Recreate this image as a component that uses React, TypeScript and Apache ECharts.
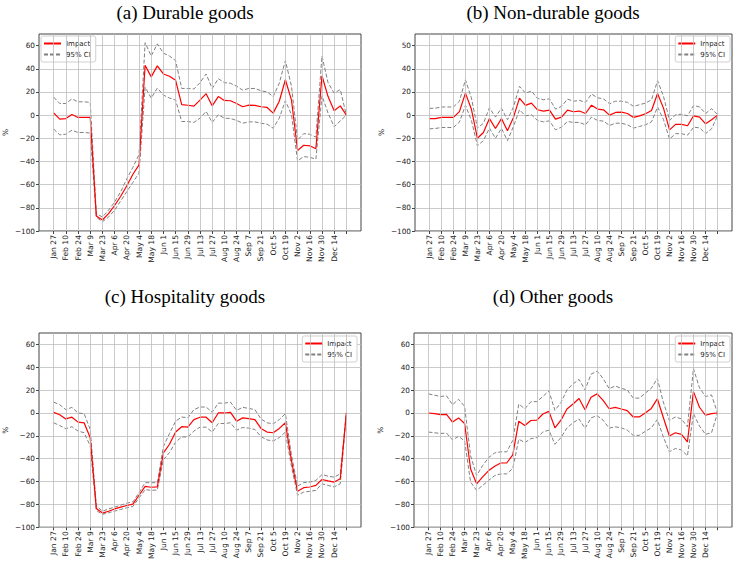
import React, { useEffect, useRef } from "react";
import * as echarts from "echarts";

const weeks = [
  "Jan 27", "Feb 3", "Feb 10", "Feb 17", "Feb 24", "Mar 2", "Mar 9", "Mar 16", "Mar 23", "Mar 30",
  "Apr 6", "Apr 13", "Apr 20", "Apr 27", "May 4", "May 11", "May 18", "May 25", "Jun 1", "Jun 8",
  "Jun 15", "Jun 22", "Jun 29", "Jul 6", "Jul 13", "Jul 20", "Jul 27", "Aug 3", "Aug 10", "Aug 17",
  "Aug 24", "Aug 31", "Sep 7", "Sep 14", "Sep 21", "Sep 28", "Oct 5", "Oct 12", "Oct 19", "Oct 26",
  "Nov 2", "Nov 9", "Nov 16", "Nov 23", "Nov 30", "Dec 7", "Dec 14", "Dec 21", "Dec 28",
];
const xLabelIdx = [0, 2, 4, 6, 8, 10, 12, 14, 16, 18, 20, 22, 24, 26, 28, 30, 32, 34, 36, 38, 40, 42, 44, 46];
const xTickIdx = [0, 2, 4, 6, 8, 10, 12, 14, 16, 18, 20, 22, 24, 26, 28, 30, 32, 34, 36, 38, 40, 42, 44, 46, 48];
const yTickValues = [-100, -80, -60, -40, -20, 0, 20, 40, 60];
const yTickLabels = ["−100", "−80", "−60", "−40", "−20", "0", "20", "40", "60"];
const yTickLabelsB = ["−100", "−80", "−60", "−40", "−20", "0", "20", "40", "50"];

const durableImpact = [2, -3.5, -3, 0.5, -2, -2, -2, -87, -90.5, -85, -78, -70, -61, -51, -43, 43, 33, 42.5, 35.5, 33.5, 30, 9, 8.5, 7.8, 13, 18.5, 8, 16, 12.7, 12.4, 10, 7.2, 8.6, 8.4, 7.2, 6.6, 1.7, 12, 30.5, 13, -30.5, -26, -26.5, -29, 34, 16, 3.7, 8, 0];
const durableUpper = [15.5, 10, 10, 14, 11.5, 11.5, 11, -85, -88, -82, -75, -66, -55, -45, -34, 62.5, 51, 61.5, 53.5, 51, 47, 23, 23, 22.5, 28, 35.5, 23, 31.5, 28, 27.5, 25, 21.5, 23, 23, 21, 20, 16, 27.5, 47, 25, -21.5, -16, -16.5, -19, 51, 28, 19, 22, 0];
const durableLower = [-12, -17, -16.5, -13, -15, -15, -15.5, -88, -92, -88, -82, -74, -66, -58, -50, 24, 14.7, 23.3, 17.3, 14.7, 13, -5.5, -5.5, -6.3, -2.6, 3.2, -6.3, 0.3, -2.6, -2.9, -4.6, -7, -5.8, -5.8, -7, -7.8, -11.3, -2.6, 12.4, 0.3, -39.5, -35.8, -36.4, -38, 16.7, 1.7, -10, -5, 0];

const nonDurableImpact = [-3, -3, -2, -2, -2, 3, 19, 5, -20, -15, -3, -11.5, -3, -13.5, -2, 14.7, 8.4, 10.4, 4.6, 3.5, 4.3, -3.5, -1.7, 4.3, 2.9, 3.5, 1.4, 8.6, 5.2, 4.6, 0, 2.3, 2.6, 1.4, -2, -0.6, 1.2, 4, 18.7, 5.8, -12.7, -8, -8, -9.2, -0.6, -1.7, -7.5, -4, 0];
const nonDurableUpper = [5.8, 6, 7, 7, 7, 12, 30.5, 14.7, -11.2, -7, 6.3, -1.7, 6, -4, 7, 24.8, 19, 20.7, 14.4, 13.3, 14, 5.2, 7.5, 13.8, 12, 12.7, 11, 18.2, 15, 14, 9.8, 12, 12, 11, 7.5, 9, 10.4, 13.3, 29.7, 16, -4.6, 0.3, 0.8, -0.6, 8.4, 7, 1.4, 5.5, 0.5];
const nonDurableLower = [-11.8, -11.5, -10.7, -10.7, -10.7, -6, 8.4, -4.6, -26.5, -22, -11.2, -20, -11.5, -22, -9.8, 4.6, -0.6, 0.3, -4.6, -5.8, -5, -12.7, -10.4, -5.5, -6.3, -6.3, -8.4, -1.7, -4.6, -5.2, -8.9, -7, -7, -8.4, -11.2, -9.8, -8.4, -5.8, 7, -4, -20.7, -16, -16, -17.3, -10.4, -11, -16, -11.8, -0.5];

const hospImpact = [0.5, -1.5, -5.2, -3.7, -8, -8.6, -21.6, -83.6, -87.6, -86, -84, -82.4, -81, -79.8, -72, -64.3, -65, -64.6, -35, -27.4, -16.7, -12, -12.4, -5.8, -3.7, -3.7, -8.6, 0, 0, 0.5, -7.2, -4.3, -4.9, -5.8, -13.5, -16.7, -17.3, -13.5, -8.6, -42, -68.6, -65.4, -64.8, -63.4, -58.2, -59.4, -60.5, -57.6, 0];
const hospUpper = [9.5, 7.2, 2.9, 4.9, 0, -0.6, -14.4, -81.3, -86, -84, -82.4, -80.7, -78.9, -77.8, -69.7, -61, -61, -61, -29.4, -17.9, -7.2, -3.5, -4.3, 2.9, 5.2, 5.2, 0.6, 8.6, 8.6, 9.5, 2.3, 4.9, 4, 2.9, -5.2, -8.6, -9.5, -5.8, -0.6, -37, -64, -61, -60.5, -59, -54, -55.3, -56.2, -53.3, 0.5];
const hospLower = [-8.6, -11, -13.8, -12, -15.8, -17.3, -28.8, -85.3, -88.8, -87.3, -85.9, -84.4, -83, -81.8, -74.4, -67.1, -67.7, -67.4, -40.9, -34.6, -25.4, -21, -21, -15.8, -12.4, -12.4, -16.7, -9.2, -9.2, -8.6, -15, -12.7, -13.3, -14.4, -20.7, -23.6, -24.5, -21.6, -16.7, -47, -72, -69.2, -68.6, -67.7, -62, -63.4, -64.8, -62, -0.5];

const otherImpact = [0, -0.6, -1.4, -1.2, -8, -4.3, -9.2, -49, -62, -56, -50.4, -46.7, -43.8, -43.8, -36.6, -7.2, -11, -6.6, -6.3, -0.9, 1.4, -13, -6.3, 3.5, 7.8, 12.7, 2.9, 13.8, 16.7, 11, 3.7, 4.9, 3.5, 2, -3.5, -3.5, 0, 4, 12.4, -4, -20.2, -17.3, -18.7, -25.4, 18.7, 5, -2, -0.6, 0];
const otherUpper = [16.7, 15.6, 14.4, 15, 7.2, 12, 5.8, -37.5, -54.8, -46, -39, -35, -34, -34, -24, 7.8, 3.7, 9.8, 10, 14.4, 19.3, 2.3, 9.2, 20.2, 25.4, 29.4, 20.2, 34, 36.6, 30.2, 21.3, 23.6, 21.6, 20.2, 13, 13, 17.3, 21.6, 30.2, 9.5, -6.6, -3.5, -5.2, -12.1, 38.9, 22, 14.4, 15.8, 0];
const otherLower = [-16.7, -17.3, -17.9, -17.6, -23.6, -20.5, -24.5, -60.5, -67.7, -63.4, -59, -54.8, -53.3, -53.3, -48.4, -23, -25.9, -22.5, -21.6, -16.7, -15, -27.4, -21.6, -13, -8.6, -5.2, -13.5, -4.3, -2.3, -6.3, -13.3, -12.1, -13, -15, -19.6, -19.6, -16.1, -13, -5.8, -21, -34, -31.1, -32.3, -37.5, -0.6, -11.5, -18.7, -17.3, 0];

const titles = ["(a) Durable goods", "(b) Non-durable goods", "(c) Hospitality goods", "(d) Other goods"];
const impacts = [durableImpact, nonDurableImpact, hospImpact, otherImpact];
const uppers = [durableUpper, nonDurableUpper, hospUpper, otherUpper];
const lowers = [durableLower, nonDurableLower, hospLower, otherLower];
const yLabelSets = [yTickLabels, yTickLabelsB, yTickLabels, yTickLabels];

const W = 738;
const H = 562;
const grids = [
  { left: 39, top: 34, width: 322, height: 197 },
  { left: 415, top: 34, width: 317, height: 197 },
  { left: 38, top: 333, width: 323, height: 196 },
  { left: 414, top: 333, width: 318, height: 196 },
];
const titlePos = [
  { x: 185, y: 3 },
  { x: 553, y: 3 },
  { x: 185, y: 287 },
  { x: 553, y: 287 },
];
const legendPos: any[] = [
  { left: 41, top: 36 },
  { right: 8, top: 36 },
  { right: 381, top: 336 },
  { right: 8, top: 336 },
];

const pair = (arr: number[]) => arr.map((v, i) => [i, v]);
const GRID_COLOR = "#bdbdbd";

export default function App() {
  const ref = useRef<HTMLDivElement>(null);
  useEffect(() => {
    document.body.style.margin = "0";
    const chart = echarts.init(ref.current!, null, { renderer: "svg" });
    const tickFont = "DejaVu Sans";
    const option: any = {
      animation: false,
      backgroundColor: "#ffffff",
      title: titles.map((t, i) => ({
        text: t,
        left: titlePos[i].x,
        top: titlePos[i].y,
        textAlign: "center",
        padding: 0,
        textStyle: { fontFamily: "Liberation Serif", fontSize: 19, fontWeight: "normal", color: "#000" },
      })),
      legend: legendPos.map((p) => ({
        ...p,
        orient: "vertical",
        align: "left",
        data: ["Impact", "95% CI"],
        itemWidth: 17,
        itemHeight: 7,
        itemGap: 4,
        padding: [4, 5, 4, 2],
        borderColor: "#d0d0d0",
        borderWidth: 1,
        borderRadius: 2,
        backgroundColor: "#ffffff",
        selectedMode: false,
        itemStyle: { opacity: 0, borderWidth: 0 },
        textStyle: { fontFamily: tickFont, fontSize: 7, color: "#222" },
      })),
      grid: grids.map((g) => ({
        ...g,
        show: true,
        borderColor: "#444",
        borderWidth: 1,
        backgroundColor: "transparent",
        containLabel: false,
      })),
      xAxis: grids.map((_, i) => ({
        type: "value",
        gridIndex: i,
        min: -2.4,
        max: 50.4,
        axisLine: { show: false, onZero: false },
        axisTick: { show: true, customValues: xTickIdx, length: 3, lineStyle: { color: "#444" } },
        axisLabel: {
          customValues: xLabelIdx,
          rotate: 90,
          margin: 4,
          fontFamily: tickFont,
          fontSize: 7.6,
          color: "#222",
          formatter: (v: number) => weeks[v] ?? "",
        },
        splitLine: { show: false },
      })),
      yAxis: grids.map((_, i) => ({
        type: "value",
        gridIndex: i,
        min: -100,
        max: 70,
        name: "%",
        nameLocation: "middle",
        nameGap: 30,
        nameRotate: 90,
        nameTextStyle: { fontFamily: tickFont, fontSize: 7.5, color: "#222" },
        axisLine: { show: false, onZero: false },
        axisTick: { show: true, customValues: yTickValues, length: 3, lineStyle: { color: "#444" } },
        axisLabel: {
          customValues: yTickValues,
          margin: 4,
          fontFamily: tickFont,
          fontSize: 7.3,
          color: "#222",
          formatter: (v: number) => {
            const k = yTickValues.indexOf(v);
            return k >= 0 ? yLabelSets[i][k] : "";
          },
        },
        splitLine: { show: true, lineStyle: { color: GRID_COLOR, width: 0.8 } },
      })),
      series: grids.flatMap((_, i) => [
        {
          name: "grid-x",
          type: "line",
          xAxisIndex: i,
          yAxisIndex: i,
          data: [],
          symbol: "none",
          silent: true,
          z: 0,
          markLine: {
            silent: true,
            symbol: "none",
            animation: false,
            label: { show: false },
            lineStyle: { color: GRID_COLOR, width: 0.8, type: "solid" },
            emphasis: { disabled: true },
            data: xTickIdx.map((x) => ({ xAxis: x })),
          },
        },
        {
          name: "95% CI",
          type: "line",
          xAxisIndex: i,
          yAxisIndex: i,
          data: pair(uppers[i]),
          symbol: "none",
          z: 2,
          lineStyle: { color: "#808080", width: 1, type: [4, 2] },
          itemStyle: { color: "#808080" },
        },
        {
          name: "95% CI",
          type: "line",
          xAxisIndex: i,
          yAxisIndex: i,
          data: pair(lowers[i]),
          symbol: "none",
          z: 2,
          lineStyle: { color: "#808080", width: 1, type: [4, 2] },
          itemStyle: { color: "#808080" },
        },
        {
          name: "Impact",
          type: "line",
          xAxisIndex: i,
          yAxisIndex: i,
          data: pair(impacts[i]),
          symbol: "none",
          z: 3,
          lineStyle: { color: "#ff0000", width: 1.2 },
          itemStyle: { color: "#ff0000" },
        },
      ]),
    };
    chart.setOption(option);
    return () => chart.dispose();
  }, []);
  return <div ref={ref} style={{ width: W, height: H }} />;
}
